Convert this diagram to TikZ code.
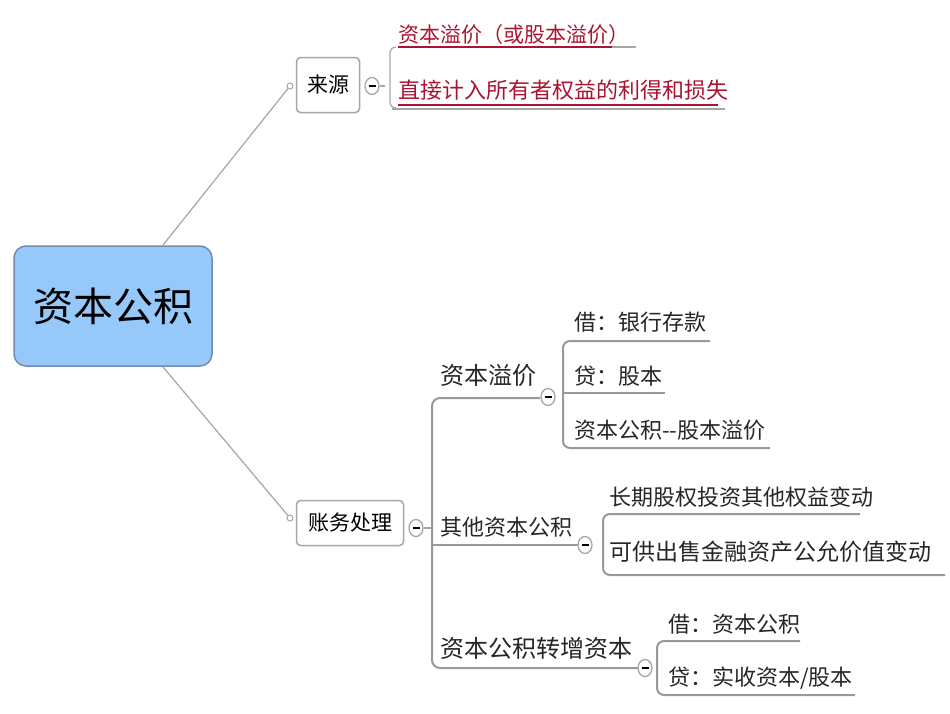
\documentclass[tikz,border=0pt]{standalone}
\usepackage{fontspec}
\usetikzlibrary{shapes.geometric}
\setmainfont{Noto Sans CJK SC}
\begin{document}
\begin{tikzpicture}[x=1pt,y=-1pt,
  ln/.style={draw=gray!80,line width=2pt},
  thin/.style={draw=gray!70,line width=1.2pt},
  bx/.style={draw=gray!70,fill=white,rounded corners=4pt,line width=1.5pt,inner sep=0pt},
  col/.style={ellipse,draw=gray!70,fill=white,line width=1.3pt,minimum width=14pt,minimum height=17pt,inner sep=0pt,
    path picture={\draw[black,line width=2.2pt] ([xshift=-3.5pt]path picture bounding box.center) -- ([xshift=3.5pt]path picture bounding box.center);}},
  dot/.style={circle,draw=gray!70,fill=white,line width=1pt,minimum size=6pt,inner sep=0pt},
  t/.style={anchor=west,inner sep=0pt,text=black!85},
  red/.style={t,text={rgb,255:red,170;green,20;blue,50},font=\fontsize{21}{21}\selectfont}]
\useasboundingbox (0,0) rectangle (950,713);
\fill[white] (0,0) rectangle (950,713);
% central
\node[draw={rgb,255:red,110;green,140;blue,180},fill={rgb,255:red,150;green,200;blue,250},rounded corners=12pt,line width=1.5pt,minimum width=198pt,minimum height=120pt,font=\fontsize{40}{40}\selectfont] (root) at (113,306) {资本公积};
% source
\node[dot] (d1) at (290,86) {};
\node[bx,minimum width=63pt,minimum height=55pt,font=\fontsize{21}{21}\selectfont] (src) at (328,85) {来源};
\draw[thin] (163,245) -- (d1);
\node[col] (c1) at (372,86) {};
\draw[thin] (c1.east) -- (385,86);
\draw[thin,rounded corners=6pt] (395,47) -- (390,47) -- (390,108) -- (395,108);
\node[red] (s1) at (398,35) {资本溢价（或股本溢价）};
\draw[line width=2pt,draw={rgb,255:red,170;green,20;blue,50}] (398,47) -- (612,47);
\draw[thin] (612,47) -- (636,47);
\node[red,font=\fontsize{22}{22}\selectfont] (s2) at (398,90) {直接计入所有者权益的利得和损失};
\draw[line width=2pt,draw={rgb,255:red,170;green,20;blue,50}] (398,105) -- (718,105);
\draw[thin] (392,109) -- (725,109);
% accounting
\node[dot] (d2) at (290,518) {};
\draw[thin] (163,367) -- (d2);
\node[bx,minimum width=107pt,minimum height=45pt,font=\fontsize{21}{21}\selectfont] (acc) at (350,523) {账务处理};
\node[col] (c2) at (416,528) {};
\draw[thin] (c2.east) -- (432,528);
\draw[ln,rounded corners=8pt] (540,398) -- (432,398) -- (432,668) -- (640,668);
\draw[ln] (432,545) -- (590,545);
\node[t,font=\fontsize{24}{24}\selectfont] (b1) at (440,375) {资本溢价};
\node[t,font=\fontsize{22}{22}\selectfont] (b2) at (440,527) {其他资本公积};
\node[t,font=\fontsize{24}{24}\selectfont] (b3) at (440,648) {资本公积转增资本};
% branch 1
\node[col] (c3) at (548,397) {};
\draw[ln,rounded corners=7pt] (710,341) -- (563,341) -- (563,448) -- (770,448);
\draw[ln] (563,393) -- (665,393);
\node[t,font=\fontsize{22}{22}\selectfont] (l1) at (574,322) {借：银行存款};
\node[t,font=\fontsize{22}{22}\selectfont] (l2) at (574,376) {贷：股本};
\node[t,font=\fontsize{22}{22}\selectfont] (l3) at (574,430) {资本公积{-}{-}股本溢价};
% branch 2
\node[col] (c4) at (585,545) {};
\draw[ln,rounded corners=7pt] (860,514) -- (603,514) -- (603,575) -- (945,575);
\node[t,font=\fontsize{22}{22}\selectfont] (l4) at (609,497) {长期股权投资其他权益变动};
\node[t,font=\fontsize{23}{23}\selectfont] (l5) at (609,552) {可供出售金融资产公允价值变动};
% branch 3
\node[col] (c5) at (645,668) {};
\draw[ln,rounded corners=7pt] (800,641) -- (657,641) -- (657,695) -- (855,695);
\node[t,font=\fontsize{22}{22}\selectfont] (l6) at (668,624) {借：资本公积};
\node[t,font=\fontsize{22}{22}\selectfont] (l7) at (668,678) {贷：实收资本/股本};
\end{tikzpicture}
\end{document}
